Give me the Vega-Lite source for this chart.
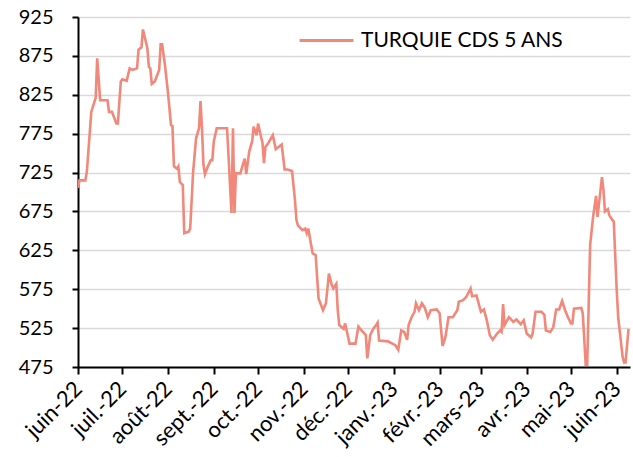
{
  "$schema": "https://vega.github.io/schema/vega-lite/v6.json",
  "autosize": {"type": "none"},
  "padding": {"left": 78, "top": 17, "right": 3, "bottom": 90},
  "width": 552,
  "height": 350,
  "background": "white",
  "config": {
    "font": "Lato",
    "view": {"stroke": null}
  },
  "data": {
    "values": [
      {"date": "2022/06/01", "cds": 705},
      {"date": "2022/06/02", "cds": 715},
      {"date": "2022/06/06", "cds": 715},
      {"date": "2022/06/07", "cds": 726},
      {"date": "2022/06/09", "cds": 777},
      {"date": "2022/06/10", "cds": 803},
      {"date": "2022/06/13", "cds": 821},
      {"date": "2022/06/14", "cds": 872},
      {"date": "2022/06/16", "cds": 818},
      {"date": "2022/06/21", "cds": 818},
      {"date": "2022/06/22", "cds": 803},
      {"date": "2022/06/24", "cds": 803},
      {"date": "2022/06/27", "cds": 788},
      {"date": "2022/06/28", "cds": 788},
      {"date": "2022/06/30", "cds": 842},
      {"date": "2022/07/01", "cds": 845},
      {"date": "2022/07/04", "cds": 843},
      {"date": "2022/07/06", "cds": 859},
      {"date": "2022/07/08", "cds": 857},
      {"date": "2022/07/11", "cds": 859},
      {"date": "2022/07/12", "cds": 883},
      {"date": "2022/07/14", "cds": 886},
      {"date": "2022/07/15", "cds": 909},
      {"date": "2022/07/18", "cds": 885},
      {"date": "2022/07/19", "cds": 861},
      {"date": "2022/07/20", "cds": 859},
      {"date": "2022/07/21", "cds": 839},
      {"date": "2022/07/23", "cds": 842},
      {"date": "2022/07/26", "cds": 857},
      {"date": "2022/07/27", "cds": 890},
      {"date": "2022/07/28", "cds": 890},
      {"date": "2022/07/30", "cds": 862},
      {"date": "2022/08/01", "cds": 827},
      {"date": "2022/08/03", "cds": 786},
      {"date": "2022/08/04", "cds": 785},
      {"date": "2022/08/05", "cds": 733},
      {"date": "2022/08/07", "cds": 730},
      {"date": "2022/08/08", "cds": 733},
      {"date": "2022/08/09", "cds": 713},
      {"date": "2022/08/11", "cds": 709},
      {"date": "2022/08/12", "cds": 647},
      {"date": "2022/08/15", "cds": 649},
      {"date": "2022/08/16", "cds": 653},
      {"date": "2022/08/18", "cds": 726},
      {"date": "2022/08/20", "cds": 769},
      {"date": "2022/08/22", "cds": 782},
      {"date": "2022/08/23", "cds": 817},
      {"date": "2022/08/24", "cds": 782},
      {"date": "2022/08/25", "cds": 735},
      {"date": "2022/08/26", "cds": 723},
      {"date": "2022/08/28", "cds": 733},
      {"date": "2022/08/30", "cds": 741},
      {"date": "2022/08/31", "cds": 741},
      {"date": "2022/09/01", "cds": 765},
      {"date": "2022/09/03", "cds": 782},
      {"date": "2022/09/09", "cds": 782},
      {"date": "2022/09/10", "cds": 782},
      {"date": "2022/09/13", "cds": 673},
      {"date": "2022/09/14", "cds": 782},
      {"date": "2022/09/15", "cds": 673},
      {"date": "2022/09/16", "cds": 724},
      {"date": "2022/09/19", "cds": 724},
      {"date": "2022/09/21", "cds": 737},
      {"date": "2022/09/22", "cds": 743},
      {"date": "2022/09/23", "cds": 723},
      {"date": "2022/09/25", "cds": 752},
      {"date": "2022/09/27", "cds": 765},
      {"date": "2022/09/28", "cds": 784},
      {"date": "2022/09/30", "cds": 773},
      {"date": "2022/10/01", "cds": 788},
      {"date": "2022/10/03", "cds": 771},
      {"date": "2022/10/04", "cds": 763},
      {"date": "2022/10/05", "cds": 737},
      {"date": "2022/10/06", "cds": 758},
      {"date": "2022/10/08", "cds": 763},
      {"date": "2022/10/11", "cds": 773},
      {"date": "2022/10/13", "cds": 755},
      {"date": "2022/10/17", "cds": 761},
      {"date": "2022/10/19", "cds": 729},
      {"date": "2022/10/21", "cds": 729},
      {"date": "2022/10/24", "cds": 727},
      {"date": "2022/10/26", "cds": 690},
      {"date": "2022/10/27", "cds": 664},
      {"date": "2022/10/28", "cds": 657},
      {"date": "2022/10/31", "cds": 651},
      {"date": "2022/11/02", "cds": 653},
      {"date": "2022/11/03", "cds": 647},
      {"date": "2022/11/04", "cds": 653},
      {"date": "2022/11/07", "cds": 621},
      {"date": "2022/11/09", "cds": 619},
      {"date": "2022/11/11", "cds": 563},
      {"date": "2022/11/14", "cds": 548},
      {"date": "2022/11/16", "cds": 557},
      {"date": "2022/11/18", "cds": 595},
      {"date": "2022/11/20", "cds": 580},
      {"date": "2022/11/21", "cds": 576},
      {"date": "2022/11/23", "cds": 582},
      {"date": "2022/11/24", "cds": 548},
      {"date": "2022/11/25", "cds": 529},
      {"date": "2022/11/28", "cds": 524},
      {"date": "2022/11/29", "cds": 531},
      {"date": "2022/12/02", "cds": 505},
      {"date": "2022/12/06", "cds": 505},
      {"date": "2022/12/08", "cds": 527},
      {"date": "2022/12/11", "cds": 520},
      {"date": "2022/12/13", "cds": 516},
      {"date": "2022/12/14", "cds": 486},
      {"date": "2022/12/16", "cds": 516},
      {"date": "2022/12/18", "cds": 524},
      {"date": "2022/12/20", "cds": 529},
      {"date": "2022/12/21", "cds": 532},
      {"date": "2022/12/22", "cds": 509},
      {"date": "2022/12/28", "cds": 508},
      {"date": "2023/01/02", "cds": 503},
      {"date": "2023/01/04", "cds": 497},
      {"date": "2023/01/06", "cds": 522},
      {"date": "2023/01/08", "cds": 520},
      {"date": "2023/01/10", "cds": 510},
      {"date": "2023/01/11", "cds": 529},
      {"date": "2023/01/13", "cds": 539},
      {"date": "2023/01/15", "cds": 546},
      {"date": "2023/01/16", "cds": 557},
      {"date": "2023/01/18", "cds": 548},
      {"date": "2023/01/20", "cds": 557},
      {"date": "2023/01/22", "cds": 551},
      {"date": "2023/01/24", "cds": 539},
      {"date": "2023/01/26", "cds": 548},
      {"date": "2023/01/30", "cds": 549},
      {"date": "2023/02/01", "cds": 544},
      {"date": "2023/02/03", "cds": 502},
      {"date": "2023/02/05", "cds": 514},
      {"date": "2023/02/07", "cds": 539},
      {"date": "2023/02/10", "cds": 539},
      {"date": "2023/02/13", "cds": 548},
      {"date": "2023/02/14", "cds": 559},
      {"date": "2023/02/17", "cds": 561},
      {"date": "2023/02/19", "cds": 565},
      {"date": "2023/02/22", "cds": 576},
      {"date": "2023/02/23", "cds": 566},
      {"date": "2023/02/26", "cds": 567},
      {"date": "2023/03/01", "cds": 546},
      {"date": "2023/03/03", "cds": 549},
      {"date": "2023/03/05", "cds": 535},
      {"date": "2023/03/07", "cds": 516},
      {"date": "2023/03/09", "cds": 510},
      {"date": "2023/03/12", "cds": 518},
      {"date": "2023/03/14", "cds": 522},
      {"date": "2023/03/15", "cds": 520},
      {"date": "2023/03/16", "cds": 556},
      {"date": "2023/03/17", "cds": 529},
      {"date": "2023/03/20", "cds": 539},
      {"date": "2023/03/23", "cds": 533},
      {"date": "2023/03/25", "cds": 536},
      {"date": "2023/03/28", "cds": 530},
      {"date": "2023/03/30", "cds": 535},
      {"date": "2023/04/01", "cds": 518},
      {"date": "2023/04/04", "cds": 513},
      {"date": "2023/04/05", "cds": 518},
      {"date": "2023/04/07", "cds": 546},
      {"date": "2023/04/11", "cds": 546},
      {"date": "2023/04/13", "cds": 542},
      {"date": "2023/04/14", "cds": 522},
      {"date": "2023/04/17", "cds": 520},
      {"date": "2023/04/19", "cds": 526},
      {"date": "2023/04/21", "cds": 549},
      {"date": "2023/04/23", "cds": 549},
      {"date": "2023/04/25", "cds": 560},
      {"date": "2023/04/27", "cds": 548},
      {"date": "2023/04/29", "cds": 539},
      {"date": "2023/05/01", "cds": 531},
      {"date": "2023/05/02", "cds": 531},
      {"date": "2023/05/03", "cds": 550},
      {"date": "2023/05/08", "cds": 551},
      {"date": "2023/05/09", "cds": 544},
      {"date": "2023/05/11", "cds": 478},
      {"date": "2023/05/12", "cds": 478},
      {"date": "2023/05/14", "cds": 632},
      {"date": "2023/05/16", "cds": 668},
      {"date": "2023/05/18", "cds": 695},
      {"date": "2023/05/19", "cds": 668},
      {"date": "2023/05/20", "cds": 685},
      {"date": "2023/05/22", "cds": 719},
      {"date": "2023/05/23", "cds": 703},
      {"date": "2023/05/24", "cds": 675},
      {"date": "2023/05/26", "cds": 678},
      {"date": "2023/05/27", "cds": 670},
      {"date": "2023/05/29", "cds": 664},
      {"date": "2023/05/30", "cds": 662},
      {"date": "2023/06/01", "cds": 574},
      {"date": "2023/06/02", "cds": 539},
      {"date": "2023/06/05", "cds": 488},
      {"date": "2023/06/06", "cds": 481},
      {"date": "2023/06/07", "cds": 481},
      {"date": "2023/06/09", "cds": 524}
    ]
  },
  "mark": {"type": "line", "strokeWidth": 2.6, "clip": true},
  "encoding": {
    "x": {
      "field": "date",
      "type": "temporal",
      "scale": {"domain": [{"year": 2022, "month": 6, "date": 1}, {"year": 2023, "month": 6, "date": 10}]},
      "axis": {
        "title": null,
        "grid": false,
        "tickCount": {"interval": "month", "step": 1},
        "labelExpr": "['janv.','févr.','mars','avr.','mai','juin','juil.','août','sept.','oct.','nov.','déc.'][month(datum.value)] + '-' + timeFormat(datum.value, '%y')",
        "labelAngle": -45,
        "labelAlign": "right",
        "labelBaseline": "middle",
        "labelFontSize": 22,
        "labelColor": "black",
        "labelPadding": 11,
        "labelOverlap": false,
        "labelFlush": false,
        "labelBound": false,
        "domainColor": "black",
        "domainWidth": 2,
        "tickColor": "black",
        "tickWidth": 2,
        "tickSize": 7
      }
    },
    "y": {
      "field": "cds",
      "type": "quantitative",
      "scale": {"domain": [475, 925], "nice": false, "zero": false},
      "axis": {
        "title": null,
        "values": [475, 525, 575, 625, 675, 725, 775, 825, 875, 925],
        "labelFontSize": 20,
        "labelColor": "black",
        "labelPadding": 19,
        "domainColor": "black",
        "domainWidth": 2,
        "tickColor": "black",
        "tickWidth": 2,
        "tickSize": 6,
        "gridColor": "#d9d9d9",
        "gridWidth": 1.5
      }
    },
    "color": {
      "datum": "TURQUIE CDS 5 ANS",
      "type": "nominal",
      "scale": {"range": ["#F1887A"]},
      "legend": {
        "title": null,
        "orient": "none",
        "legendX": 220,
        "legendY": -5,
        "padding": 0,
        "symbolType": "stroke",
        "symbolSize": 2900,
        "symbolStrokeWidth": 3,
        "labelFontSize": 21,
        "labelColor": "black",
        "labelLimit": 0,
        "labelOffset": 6
      }
    }
  }
}
